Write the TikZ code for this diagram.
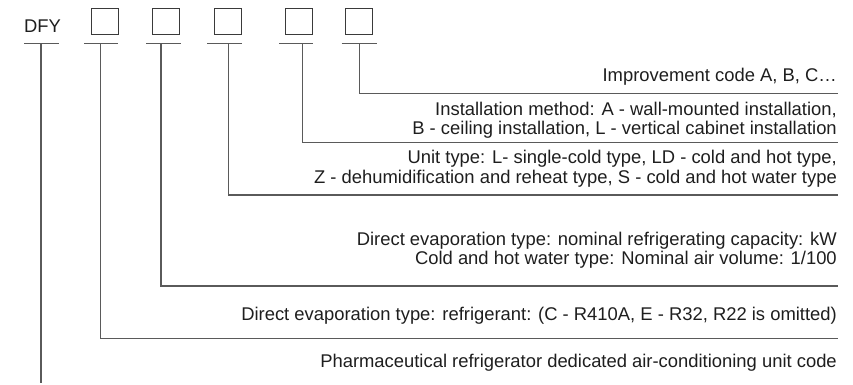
\documentclass[tikz,border=0pt]{standalone}
\usepackage{fontspec}
\setmainfont{Liberation Sans}
\definecolor{linec}{HTML}{5A5A5A}
\definecolor{boxc}{HTML}{3A3A3A}
\definecolor{txtc}{HTML}{1E1E1E}
\begin{document}
\begin{tikzpicture}[x=1pt,y=-1pt,
  codebox/.style={draw=boxc, line width=0.9pt, minimum width=27pt, minimum height=26.5pt, inner sep=0pt},
  lead/.style={draw=linec, line width=1.1pt},
  desc/.style={anchor=base east, inner sep=0pt, text=txtc, font=\fontsize{18.4pt}{22pt}\selectfont},
  codelabel/.style={anchor=base west, inner sep=0pt, text=txtc, font=\fontsize{18.4pt}{22pt}\selectfont}]
\useasboundingbox (0,0) rectangle (853,385);
% code letters and boxes
\node[codelabel] (dfy) at (24,32.3) {DFY};
\node[codebox] (b1) at (104.5,21.7) {};
\node[codebox] (b2) at (166.3,21.7) {};
\node[codebox] (b3) at (227.9,21.7) {};
\node[codebox] (b4) at (299.2,21.7) {};
\node[codebox] (b5) at (358.7,21.7) {};
% underlines
\draw[lead] (24,43.3) -- (59.3,43.3);
\draw[lead] (84,43.3) -- (118.3,43.3);
\draw[lead] (146,43.3) -- (180.7,43.3);
\draw[lead] (207,43.3) -- (242,43.3);
\draw[lead] (279,43.3) -- (313,43.3);
\draw[lead] (341.7,43.3) -- (376.7,43.3);
% junctions on the underlines
\coordinate (j0) at (41,43.3);
\coordinate (j1) at (100.7,43.3);
\coordinate (j2) at (161,43.3);
\coordinate (j3) at (228.7,43.3);
\coordinate (j4) at (302.3,43.3);
\coordinate (j5) at (359.3,43.3);
% ends of the leaders
\coordinate (e0) at (41,383);
\coordinate (e1) at (838,338.7);
\coordinate (e2) at (838,286);
\coordinate (e3) at (838,195);
\coordinate (e4) at (838,142.5);
\coordinate (e5) at (838,93.3);
\draw[lead] (j0) -- (e0);
\draw[lead] (j1) |- (e1);
\draw[lead] (j2) |- (e2);
\draw[lead] (j3) |- (e3);
\draw[lead] (j4) |- (e4);
\draw[lead] (j5) |- (e5);
% descriptions
\node[desc] (d5) at (837,82) {Improvement code A, B, C…};
\node[desc] (d4a) at (837,115) {Installation method: A - wall-mounted installation,};
\node[desc] (d4b) at (837,134.5) {B - ceiling installation, L - vertical cabinet installation};
\node[desc] (d3a) at (837,163.5) {Unit type: L- single-cold type, LD - cold and hot type,};
\node[desc] (d3b) at (837,183.5) {Z - dehumidification and reheat type, S - cold and hot water type};
\node[desc] (d2a) at (837,245) {Direct evaporation type: nominal refrigerating capacity: kW};
\node[desc] (d2b) at (837,264) {Cold and hot water type: Nominal air volume: 1/100};
\node[desc] (d1) at (837,320) {Direct evaporation type: refrigerant: (C - R410A, E - R32, R22 is omitted)};
\node[desc] (d0) at (837,367) {Pharmaceutical refrigerator dedicated air-conditioning unit code};
\end{tikzpicture}
\end{document}
